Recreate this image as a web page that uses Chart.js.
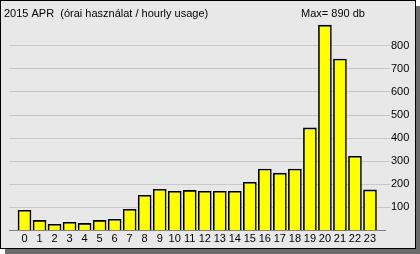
<!DOCTYPE html>
<html>
<head>
<meta charset="utf-8">
<script src="https://cdn.jsdelivr.net/npm/chart.js@4.4.1/dist/chart.umd.min.js"></script>
<style>
  html, body { margin: 0; padding: 0; background: #ffffff; }
  body { width: 420px; height: 254px; position: relative; overflow: hidden; }
  #frame { position: absolute; left: 0; top: 0; width: 414px; height: 247px;
           border: 1px solid #000; background: #e8e8e8; box-shadow: 5px 6px 0 #6b6b6b; }
  #c { position: absolute; left: 0; top: 0; }
</style>
</head>
<body>
<div id="frame"></div>
<canvas id="c" width="420" height="254"></canvas>
<script>
const titleText = '2015 APR  (órai használat / hourly usage)';
const unitText = 'db';
const hours = [0,1,2,3,4,5,6,7,8,9,10,11,12,13,14,15,16,17,18,19,20,21,22,23];
const usage = [87,43,26,35,30,43,48,91,152,178,169,173,169,169,169,208,266,248,266,444,890,743,321,175];
const yTicks = [100,200,300,400,500,600,700,800];

const FONT = '"Liberation Sans", Arial, sans-serif';
const maxVal = Math.max(...usage);

const header = {
  id: 'header',
  afterDraw(chart) {
    const ctx = chart.ctx;
    ctx.save();
    ctx.font = '11px ' + FONT;
    ctx.fillStyle = '#000';
    ctx.textBaseline = 'alphabetic';
    ctx.textAlign = 'left';
    ctx.fillText(titleText, 4, 17);
    ctx.fillText('Max= ' + maxVal + ' ' + unitText, 301, 17);
    ctx.restore();
  }
};

new Chart(document.getElementById('c'), {
  type: 'bar',
  data: {
    datasets: [{
      data: hours.map((h, i) => ({ x: h, y: usage[i] })),
      backgroundColor: '#ffff00',
      borderColor: '#000000',
      borderWidth: 1.6,
      barThickness: 13
    }]
  },
  options: {
    responsive: false,
    animation: false,
    devicePixelRatio: 1,
    layout: { padding: { left: 9.5, top: 22.8, right: 0, bottom: 0 } },
    plugins: { legend: { display: false }, tooltip: { enabled: false }, title: { display: false } },
    scales: {
      x: {
        type: 'linear',
        min: -1, max: 24,
        offset: false,
        grid: { display: false, drawTicks: false },
        border: { display: true, color: '#808080', width: 1 },
        ticks: {
          stepSize: 1, autoSkip: false, maxRotation: 0, padding: 2,
          color: '#000', font: { family: FONT, size: 11 },
          callback: v => (hours.includes(v) ? String(v) : '')
        },
        afterFit: s => { s.height = 23.7; }
      },
      y: {
        position: 'right',
        min: 0, max: 900,
        grid: { color: '#c8c8c8', lineWidth: 1, drawTicks: true, tickLength: 5 },
        border: { display: false },
        ticks: { color: '#000', padding: 1, font: { family: FONT, size: 11 } },
        afterBuildTicks: s => { s.ticks = yTicks.map(v => ({ value: v })); },
        afterFit: s => { s.width = 35; }
      }
    }
  },
  plugins: [header]
});
</script>
</body>
</html>
